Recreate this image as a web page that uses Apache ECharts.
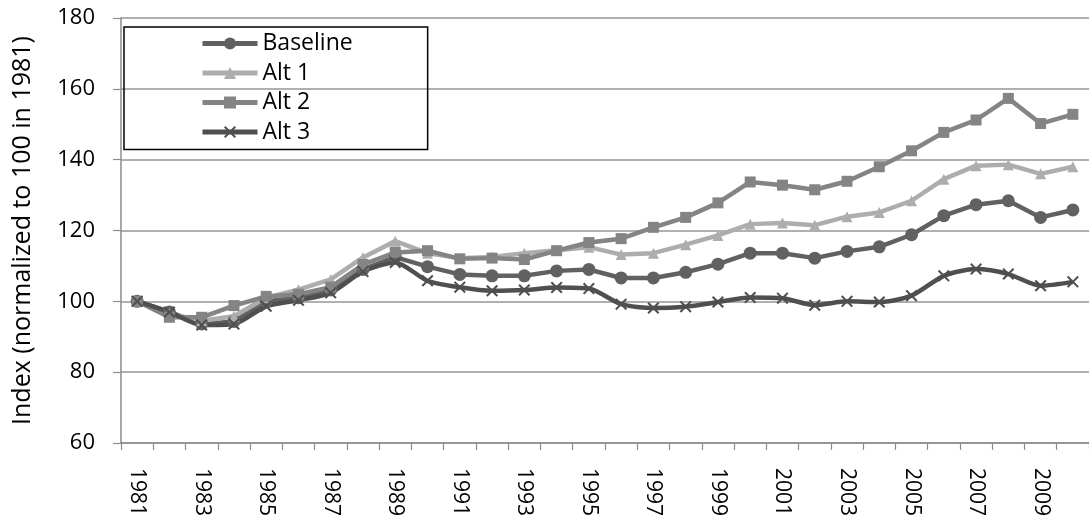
<!DOCTYPE html>
<html>
<head>
<meta charset="utf-8">
<script src="https://cdn.jsdelivr.net/npm/echarts@6/dist/echarts.min.js"></script>
<style>
html,body{margin:0;padding:0;background:#fff;}
#chart{width:1089px;height:523px;}
</style>
</head>
<body>
<div id="chart"></div>
<script>
const years = [1981,1982,1983,1984,1985,1986,1987,1988,1989,1990,1991,1992,1993,1994,1995,1996,1997,1998,1999,2000,2001,2002,2003,2004,2005,2006,2007,2008,2009,2010].map(String);
const baseline = [100,97,93.6,94.3,100,101,103.2,109,112.5,109.8,107.6,107.2,107.2,108.6,109,106.6,106.6,108.2,110.5,113.6,113.6,112.2,114.1,115.4,118.8,124.2,127.3,128.4,123.7,125.8];
const alt1 = [100,96.5,94.5,95.8,101,103.3,106.2,112.4,117,113.6,112.2,112.5,113.6,114.4,115.3,113.2,113.6,116,118.6,121.8,122.1,121.5,123.9,125.1,128.4,134.5,138.3,138.6,136,138];
const alt2 = [100,95.5,95.5,98.8,101.4,102,104,110.4,113.8,114.3,112,112.2,111.8,114.3,116.6,117.7,120.9,123.7,127.8,133.7,132.8,131.5,133.9,138,142.5,147.7,151.2,157.3,150.2,152.8];
const alt3 = [100,97,93.3,93.6,98.6,100.3,102.4,108.4,111,105.8,104,103,103.2,103.9,103.6,99.2,98.1,98.5,99.8,101.1,100.9,98.9,100,99.8,101.6,107.2,109.1,107.7,104.4,105.5];
const yTicks = {min:60, max:180, interval:20};

const font = '"Open Sans", "Noto Sans", sans-serif';
const xPath = 'path://M0,1.2 L1.2,0 L5,3.8 L8.8,0 L10,1.2 L6.2,5 L10,8.8 L8.8,10 L5,6.2 L1.2,10 L0,8.8 L3.8,5 Z';

const chart = echarts.init(document.getElementById('chart'), null, {renderer:'canvas'});
chart.setOption({
  animation:false,
  backgroundColor:'#ffffff',
  grid:{left:121, top:18, width:975, height:425, containLabel:false},
  legend:{
    orient:'vertical', left:124, top:27,
    padding:[5, 75, 6, 76],
    borderColor:'#000', borderWidth:1.5,
    itemWidth:55, itemHeight:15, itemGap:6.5,
    lineStyle:{width:5},
    textStyle:{fontFamily:font, fontSize:23, color:'#000', lineHeight:23},
    data:['Baseline','Alt 1','Alt 2','Alt 3']
  },
  xAxis:{
    type:'category', data:years, boundaryGap:true,
    axisLine:{lineStyle:{color:'#8c8c8c', width:1.5}},
    axisTick:{show:true, interval:0, length:7, lineStyle:{color:'#8c8c8c', width:1.2}},
    axisLabel:{interval:1, rotate:-90, fontFamily:font, fontSize:21, color:'#000', margin:25},
    splitLine:{show:false}
  },
  yAxis:{
    type:'value', min:yTicks.min, max:yTicks.max, interval:yTicks.interval,
    name:'Index (normalized to 100 in 1981)', nameLocation:'middle', nameGap:86,
    nameTextStyle:{fontFamily:font, fontSize:25, color:'#000'},
    axisLine:{show:true, lineStyle:{color:'#8c8c8c', width:1.5}},
    axisTick:{show:true, length:8, lineStyle:{color:'#8c8c8c', width:1.2}},
    axisLabel:{fontFamily:font, fontSize:22, color:'#000', margin:26},
    splitLine:{show:true, lineStyle:{color:'#969696', width:1.5}}
  },
  series:[
    {name:'Baseline', type:'line', data:baseline, symbol:'circle', symbolSize:13,
     lineStyle:{color:'#616161', width:4.5}, itemStyle:{color:'#616161'}},
    {name:'Alt 1', type:'line', data:alt1, symbol:'triangle', symbolSize:11,
     lineStyle:{color:'#adadad', width:4.5}, itemStyle:{color:'#adadad'}},
    {name:'Alt 2', type:'line', data:alt2, symbol:'rect', symbolSize:11,
     lineStyle:{color:'#848484', width:4.5}, itemStyle:{color:'#848484'}},
    {name:'Alt 3', type:'line', data:alt3, symbol:xPath, symbolSize:12, smooth:0.25,
     lineStyle:{color:'#4f4f4f', width:4.5}, itemStyle:{color:'#4f4f4f'}}
  ]
});
</script>
</body>
</html>
